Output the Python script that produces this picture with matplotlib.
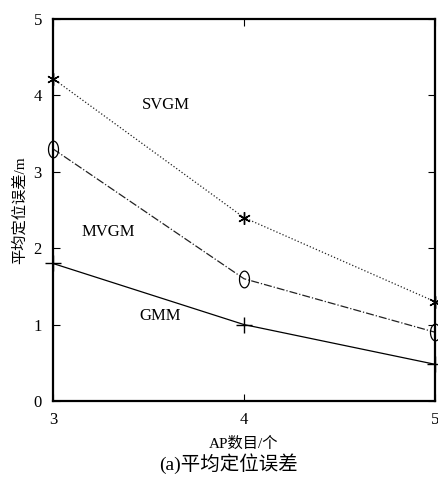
import numpy as np
import matplotlib.pyplot as plt
from matplotlib.path import Path

plt.rcParams['font.family'] = ['Liberation Serif', 'Noto Sans CJK SC']

# AP数目
ap_num = [3, 4, 5]
svgm = [4.22, 2.40, 1.30]
mvgm = [3.30, 1.60, 0.90]
gmm = [1.80, 1.00, 0.48]

# vertical ellipse marker like the original
t = np.linspace(0, 2 * np.pi, 60)
ellipse = Path(np.column_stack([0.6 * np.cos(t), np.sin(t)]), closed=True)

fig = plt.figure(figsize=(4.39, 4.83), dpi=100)
ax = fig.add_axes([0.1207, 0.1698, 0.8703, 0.7909])

ax.plot(ap_num, svgm, color='#222222', linestyle=':', linewidth=0.9,
        marker=(6, 2, 0), markersize=9, mew=1.0, mec='black', clip_on=False)
ax.plot(ap_num, mvgm, color='#222222', linestyle='-.', linewidth=0.9,
        marker=ellipse, markersize=12, mfc='none', mew=0.9, mec='black',
        clip_on=False)
ax.plot(ap_num, gmm, color='black', linestyle='-', linewidth=0.9,
        marker='+', markersize=11, mew=1.0, clip_on=False)

ax.text(3.59, 3.88, 'SVGM', fontsize=12, ha='center', va='center')
ax.text(3.29, 2.21, 'MVGM', fontsize=12, ha='center', va='center')
ax.text(3.56, 1.11, 'GMM', fontsize=12, ha='center', va='center')

ax.set_xlim(3, 5)
ax.set_ylim(0, 5)
ax.set_xticks([3, 4, 5])
ax.set_yticks([0, 1, 2, 3, 4, 5])
ax.tick_params(direction='in', top=True, right=True, labelsize=12,
               length=5, pad=8)
for s in ax.spines.values():
    s.set_linewidth(1.6)

ax.set_xlabel('AP数目/个', fontsize=11, labelpad=6)
ax.set_ylabel('平均定位误差/m', fontsize=11, labelpad=5)
fig.text(0.52, 0.041, '(a)平均定位误差', ha='center', va='center', fontsize=14)

fig.savefig('out.png', dpi=100)
